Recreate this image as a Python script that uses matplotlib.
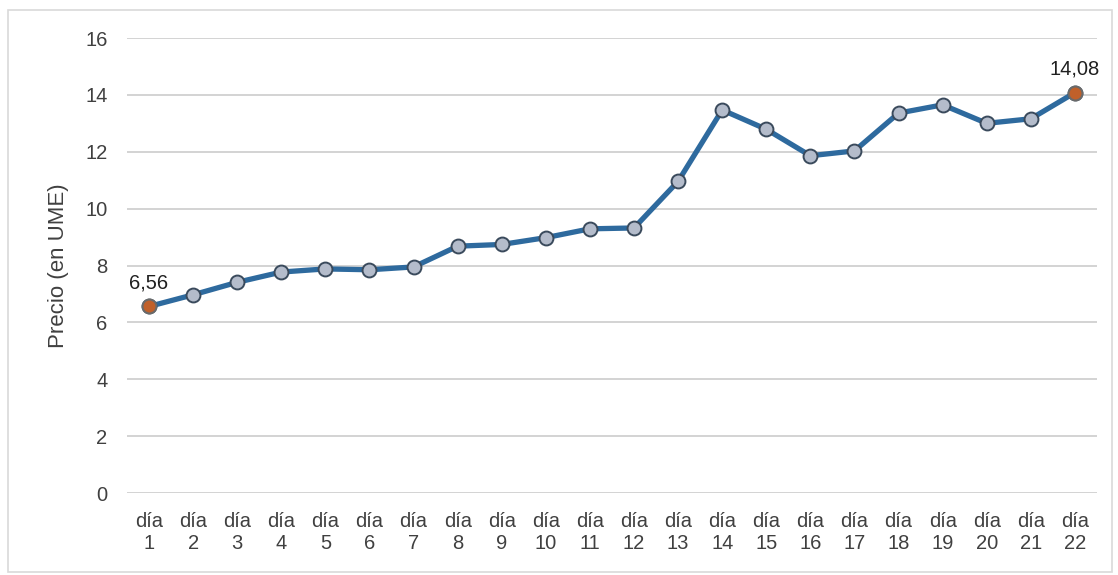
import matplotlib.pyplot as plt
from matplotlib.patches import Rectangle

# datos
dias = [f"día\n{i}" for i in range(1, 23)]
precios = [6.56, 6.97, 7.41, 7.77, 7.88, 7.85, 7.95, 8.68, 8.74, 8.98, 9.29, 9.32,
           10.96, 13.47, 12.79, 11.86, 12.03, 13.36, 13.65, 13.0, 13.16, 14.08]
etiquetas = {0: "6,56", 21: "14,08"}
y_ticks = [0, 2, 4, 6, 8, 10, 12, 14, 16]

plt.rcParams['font.family'] = ['Liberation Sans', 'DejaVu Sans']
text_color = '#404040'

fig = plt.figure(figsize=(11.18, 5.75), dpi=100)
ax = fig.add_axes([0.1136, 0.1426, 0.8676, 0.7913])

x = list(range(len(precios)))
ax.plot(x, precios, color='#2E6A9E', linewidth=3.8, zorder=3,
        marker='o', markersize=10, markerfacecolor='#B4BCCB',
        markeredgecolor='#3A4A5C', markeredgewidth=1.4)

# puntos extremos en naranja
for i in etiquetas:
    ax.plot(x[i], precios[i], marker='o', markersize=10, color='#C0602A',
            markeredgecolor='#6A6A6A', markeredgewidth=1.4, zorder=4)
    ax.annotate(etiquetas[i], (x[i], precios[i]), xytext=(0, 10),
                textcoords='offset points', ha='center', va='bottom',
                fontsize=14.5, color='#202020')

ax.set_xlim(-0.5, len(precios) - 0.5)
ax.set_ylim(0, 16)
ax.set_yticks(y_ticks)
ax.set_xticks(x)
ax.set_xticklabels(dias, linespacing=1.15)
ax.grid(axis='y', color='#D0D0D0', linewidth=1.3)
ax.set_axisbelow(True)
for s in ax.spines.values():
    s.set_visible(False)
ax.tick_params(axis='both', length=0, labelsize=14.5, labelcolor=text_color)
ax.tick_params(axis='y', pad=14)
ax.tick_params(axis='x', pad=14)
ax.set_ylabel('Precio (en UME)', fontsize=16, color=text_color, labelpad=12)

# marco del gráfico
fig.patches.append(Rectangle((0.007, 0.005), 0.988, 0.978, transform=fig.transFigure,
                             fill=False, edgecolor='#D9D9D9', linewidth=1.2))

fig.savefig('out.png', dpi=100, facecolor='white')
